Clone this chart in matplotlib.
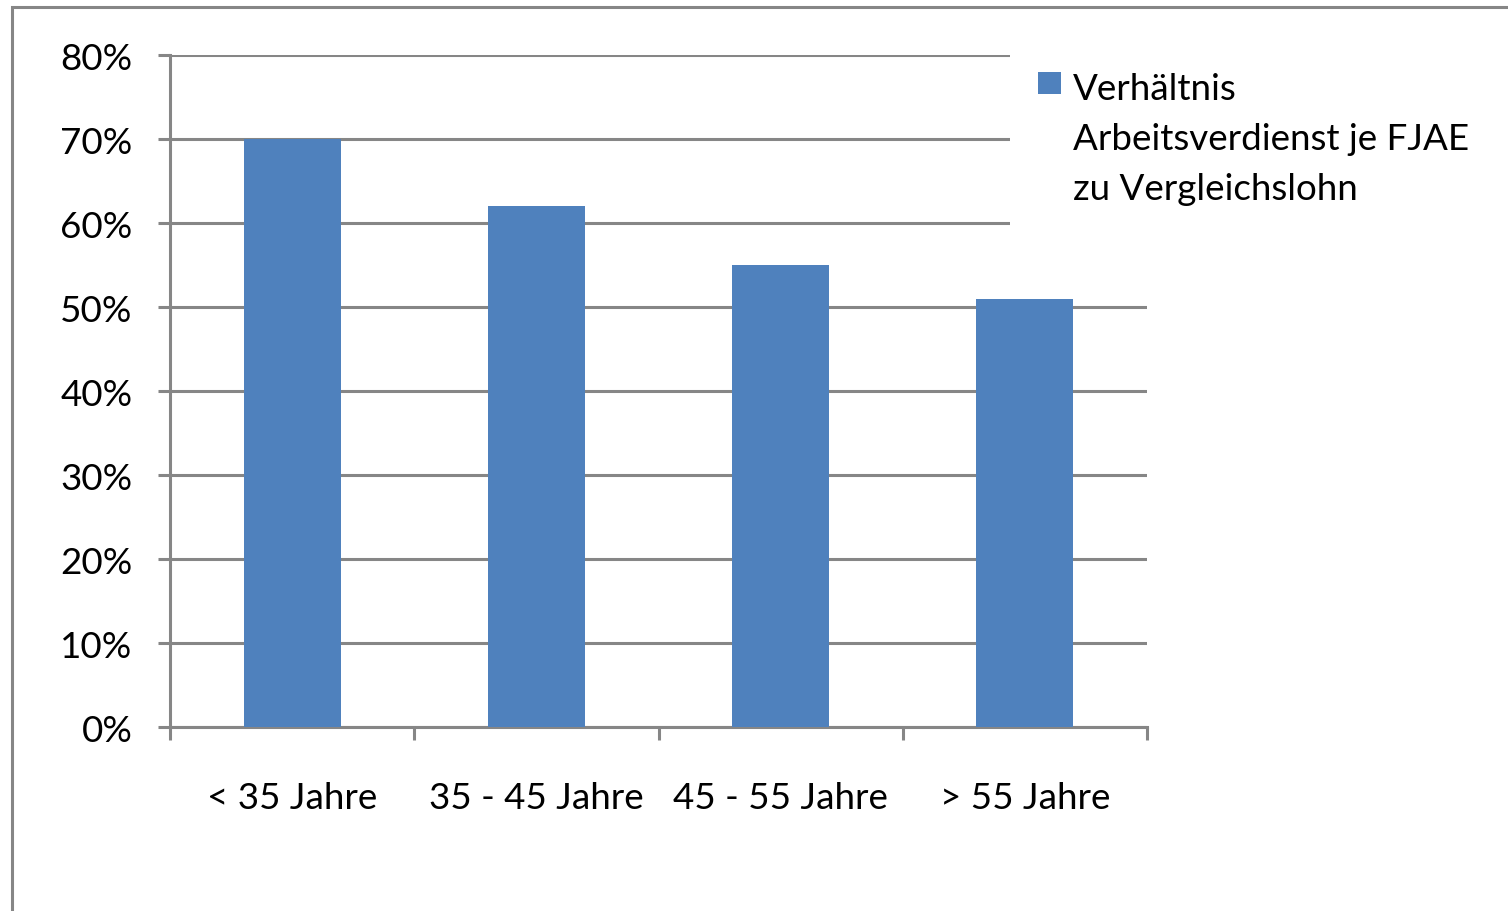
import matplotlib
matplotlib.use("Agg")
import matplotlib.pyplot as plt
from matplotlib.patches import Rectangle
from matplotlib.ticker import PercentFormatter, FixedLocator, NullFormatter
import numpy as np

categories = ["< 35 Jahre", "35 - 45 Jahre", "45 - 55 Jahre", "> 55 Jahre"]
values = [70, 62, 55, 51]
series_label = "Verhältnis\nArbeitsverdienst je FJAE\nzu Vergleichslohn"
yticks = [0, 10, 20, 30, 40, 50, 60, 70, 80]

plt.rcParams['font.family'] = ['Lato', 'DejaVu Sans']
GRID = "#868686"
BAR = "#4F81BD"
FS = 26.5
W, H = 1508, 912

fig = plt.figure(figsize=(W/100, H/100), dpi=100)
ax = fig.add_axes([170/W, 1-728/H, (1147-170)/W, (728-56)/H])

x = np.arange(len(categories))
bars = ax.bar(x, values, width=0.397, color=BAR, zorder=3, label=series_label)

ax.set_xlim(-0.5, len(categories)-0.5)
ax.set_ylim(0, 80)
ax.set_yticks(yticks)
ax.yaxis.set_major_formatter(PercentFormatter(decimals=0))
ax.grid(axis='y', color=GRID, linewidth=2.2, zorder=1)
ax.set_axisbelow(True)

# x ticks at category boundaries, labels at centers
ax.xaxis.set_major_locator(FixedLocator(np.arange(-0.5, len(categories), 1.0)))
ax.xaxis.set_major_formatter(NullFormatter())
ax.xaxis.set_minor_locator(FixedLocator(x))
ax.set_xticklabels(categories, minor=True)
ax.tick_params(axis='x', which='minor', length=0, pad=39, labelsize=FS)
ax.tick_params(axis='x', which='major', length=9, width=2.2, color=GRID, direction='out')
ax.tick_params(axis='y', length=9, width=2.2, color=GRID, pad=18, labelsize=FS)

for s in ['top', 'right']:
    ax.spines[s].set_visible(False)
for s in ['left', 'bottom']:
    ax.spines[s].set_color(GRID)
    ax.spines[s].set_linewidth(2.2)

# Legend (white box covering gridlines, square handle aligned with first line)
fig.patches.append(Rectangle((1010/W, 1-262/H), (W-1010)/W, (262-45)/H,
                             transform=fig.transFigure, facecolor='white',
                             edgecolor='none', zorder=5))
fig.patches.append(Rectangle((1038/W, 1-95/H), 23/W, 22/H,
                             transform=fig.transFigure, facecolor=BAR,
                             edgecolor='none', zorder=6))
for i, line in enumerate(series_label.split("\n")):
    fig.text(1073/W, 1-(100+50*i)/H, line, fontsize=FS, ha='left',
             va='baseline', zorder=7)

fig.patches.append(Rectangle((12/W, -0.1), 1.2, 1-8/H+0.1,
                             transform=fig.transFigure, fill=False,
                             edgecolor=GRID, linewidth=2.2, zorder=8))

fig.savefig("out.png", dpi=100)
